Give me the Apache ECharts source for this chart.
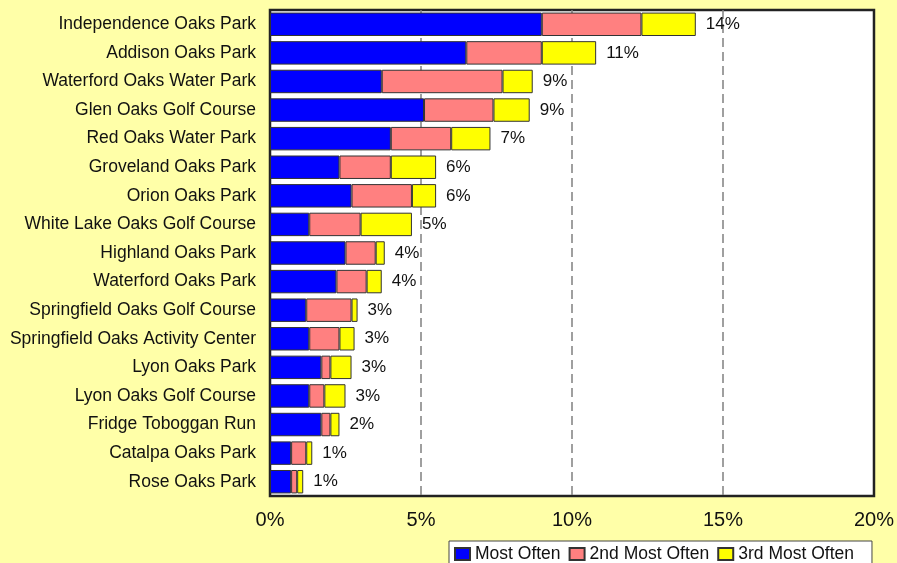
<!DOCTYPE html>
<html>
<head>
<meta charset="utf-8">
<script src="https://cdn.jsdelivr.net/npm/echarts@6/dist/echarts.min.js"></script>
<style>
  html, body { margin: 0; padding: 0; background: #FFFFA8; }
  #chart { width: 897px; height: 563px; }
</style>
</head>
<body>
<div id="chart"></div>
<script>
// park names, top to bottom
var categories = [
  'Independence Oaks Park',
  'Addison Oaks Park',
  'Waterford Oaks Water Park',
  'Glen Oaks Golf Course',
  'Red Oaks Water Park',
  'Groveland Oaks Park',
  'Orion Oaks Park',
  'White Lake Oaks Golf Course',
  'Highland Oaks Park',
  'Waterford Oaks Park',
  'Springfield Oaks Golf Course',
  'Springfield Oaks Activity Center',
  'Lyon Oaks Park',
  'Lyon Oaks Golf Course',
  'Fridge Toboggan Run',
  'Catalpa Oaks Park',
  'Rose Oaks Park'
]

// percent of respondents
var mostOften = [9.0, 6.5, 3.7, 5.1, 4.0, 2.3, 2.7, 1.3, 2.5, 2.2, 1.2, 1.3, 1.7, 1.3, 1.7, 0.7, 0.7]
var secondMost = [3.3, 2.5, 4.0, 2.3, 2.0, 1.7, 2.0, 1.7, 1.0, 1.0, 1.5, 1.0, 0.3, 0.5, 0.3, 0.5, 0.2]
var thirdMost = [1.8, 1.8, 1.0, 1.2, 1.3, 1.5, 0.8, 1.7, 0.3, 0.5, 0.2, 0.5, 0.7, 0.7, 0.3, 0.2, 0.2]

// total labels printed at the end of each bar
var totalLabels = ['14%', '11%', '9%', '9%', '7%', '6%', '6%', '5%', '4%', '4%', '3%', '3%', '3%', '3%', '2%', '1%', '1%']

var font = 'Liberation Sans, Arial, sans-serif'

var myChart = echarts.init(document.getElementById('chart'))
myChart.setOption({
  backgroundColor: '#FFFFA8',
  textStyle: { fontFamily: font },
  animation: false,
  grid: {
    left: 270,
    right: 23,
    top: 10,
    bottom: 67,
    show: true,
    backgroundColor: '#ffffff',
    borderColor: '#222222',
    borderWidth: 2.5
  },
  legend: {
    left: 449,
    top: 541,
    padding: [4, 18, 6, 5],
    itemGap: 8,
    itemWidth: 15,
    itemHeight: 12,
    icon: 'rect',
    backgroundColor: '#ffffff',
    borderColor: '#444444',
    borderWidth: 1,
    textStyle: { fontSize: 17.5, color: '#111', fontFamily: font },
    data: ['Most Often', '2nd Most Often', '3rd Most Often']
  },
  xAxis: {
    type: 'value',
    min: 0,
    max: 20,
    interval: 5,
    axisLine: { show: false },
    axisTick: { show: false },
    axisLabel: {
      formatter: '{value}%',
      fontSize: 20,
      color: '#111',
      margin: 14,
      fontFamily: font
    },
    splitLine: {
      show: true,
      showMinLine: false,
      showMaxLine: false,
      lineStyle: { color: '#808080', width: 1.5, type: [9, 5] }
    }
  },
  yAxis: {
    type: 'category',
    inverse: true,
    data: categories,
    axisLine: { show: false },
    axisTick: { show: false },
    axisLabel: {
      fontSize: 17.5,
      color: '#111',
      margin: 14,
      fontFamily: font
    }
  },
  series: [
    {
      name: 'Most Often',
      type: 'bar',
      stack: 'total',
      barCategoryGap: '18%',
      data: mostOften,
      itemStyle: { color: '#0000FF', borderColor: '#333333', borderWidth: 1 }
    },
    {
      name: '2nd Most Often',
      type: 'bar',
      stack: 'total',
      data: secondMost,
      itemStyle: { color: '#FF8080', borderColor: '#333333', borderWidth: 1 }
    },
    {
      name: '3rd Most Often',
      type: 'bar',
      stack: 'total',
      data: thirdMost,
      itemStyle: { color: '#FFFF00', borderColor: '#333333', borderWidth: 1 },
      label: {
        show: true,
        position: 'right',
        distance: 10,
        fontSize: 17,
        color: '#111',
        fontFamily: font,
        formatter: function (p) {
          return totalLabels[p.dataIndex]
        }
      }
    }
  ]
})
</script>
</body>
</html>
